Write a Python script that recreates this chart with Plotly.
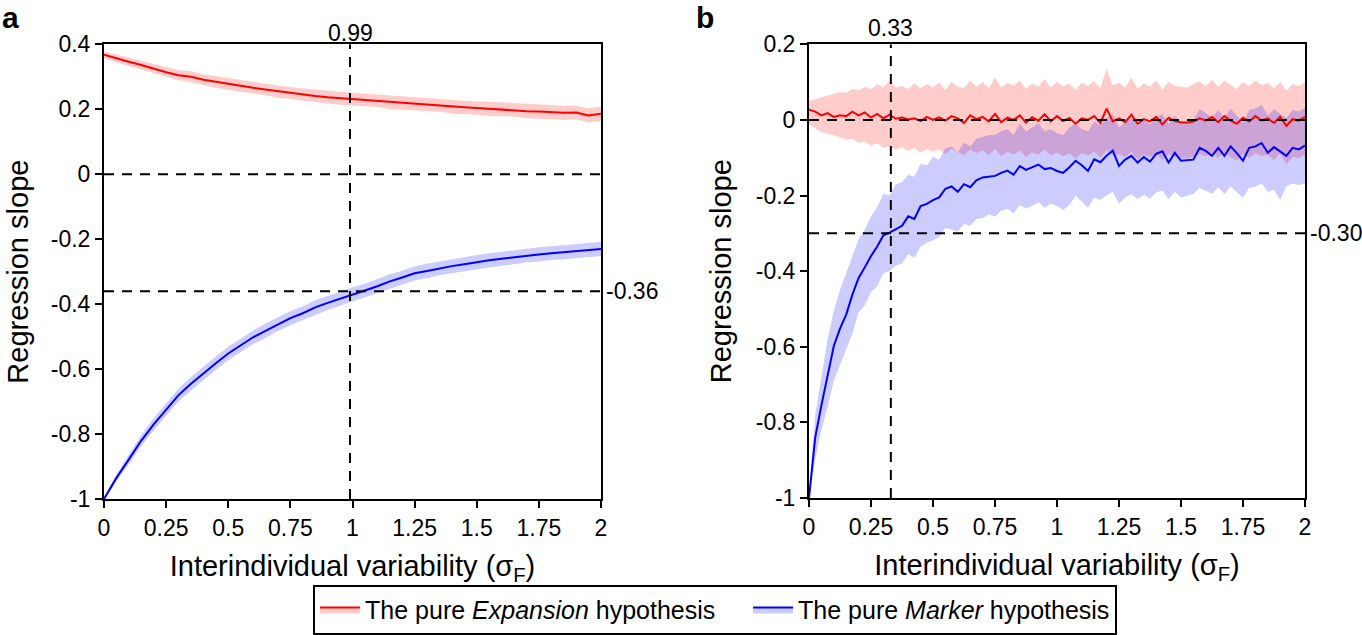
import numpy as np
import plotly.graph_objects as go

# ---------------- data: panel a (x step 0.05) ----------------
xa = np.linspace(0, 2, 41)
red_a = [0.368, 0.356, 0.346, 0.336, 0.324, 0.314, 0.305, 0.300, 0.291, 0.284,
         0.277, 0.272, 0.266, 0.261, 0.254, 0.250, 0.245, 0.241, 0.237, 0.234,
         0.231, 0.229, 0.227, 0.222, 0.219, 0.217, 0.214, 0.212, 0.208, 0.206,
         0.204, 0.201, 0.199, 0.197, 0.194, 0.193, 0.191, 0.189, 0.190, 0.181,
         0.186]
red_a_hw = [0.010, 0.012, 0.013, 0.014, 0.015, 0.016, 0.016, 0.017, 0.017, 0.018,
            0.018, 0.018, 0.019, 0.018, 0.019, 0.018, 0.019, 0.020, 0.019, 0.020,
            0.020, 0.019, 0.020, 0.021, 0.020, 0.020, 0.021, 0.020, 0.021, 0.020,
            0.021, 0.022, 0.021, 0.020, 0.021, 0.022, 0.021, 0.022, 0.021, 0.022,
            0.022]
blue_a = [-1.000, -0.935, -0.878, -0.820, -0.770, -0.725, -0.680, -0.645, -0.612, -0.582,
          -0.552, -0.527, -0.502, -0.482, -0.462, -0.443, -0.428, -0.410, -0.396, -0.384,
          -0.370, -0.358, -0.345, -0.330, -0.318, -0.305, -0.298, -0.290, -0.283, -0.277,
          -0.270, -0.265, -0.260, -0.255, -0.250, -0.247, -0.243, -0.240, -0.236, -0.233,
          -0.230]
blue_a_hw = [0.004, 0.010, 0.014, 0.017, 0.019, 0.020, 0.020, 0.021, 0.021, 0.021,
             0.021, 0.022, 0.021, 0.022, 0.021, 0.022, 0.021, 0.022, 0.022, 0.021,
             0.022, 0.021, 0.022, 0.022, 0.021, 0.022, 0.022, 0.021, 0.022, 0.022,
             0.021, 0.022, 0.022, 0.021, 0.022, 0.022, 0.021, 0.022, 0.022, 0.021,
             0.022]

# ---------------- data: panel b (x step 0.025) ----------------
xb = np.linspace(0, 2, 81)
red_b = [0.027, 0.022, 0.012, 0.018, 0.008, 0.012, 0.010, 0.022, 0.012, 0.020,
         0.006, 0.016, 0.004, 0.014, 0.003, 0.006, 0.001, 0.004, -0.003, 0.008,
         0.000, 0.007, -0.002, 0.010, 0.004, -0.008, 0.012, 0.002, 0.008, -0.004,
         0.016, -0.006, 0.006, 0.000, 0.012, -0.007, 0.007, -0.002, 0.015, -0.004,
         0.010, -0.003, 0.005, -0.010, 0.004, 0.000, 0.010, -0.008, 0.030, -0.004,
         0.004, -0.006, 0.014, -0.010, 0.002, -0.004, 0.008, -0.012, 0.006, -0.003,
         -0.006, -0.007, -0.004, 0.004, -0.002, 0.008, -0.006, 0.010, -0.002, -0.010,
         0.006, -0.004, 0.010, -0.002, 0.004, -0.008, 0.008, -0.016, 0.002, -0.002,
         0.008]
red_b_hi = [0.050, 0.055, 0.060, 0.066, 0.070, 0.074, 0.072, 0.082, 0.078, 0.088,
            0.082, 0.094, 0.086, 0.104, 0.086, 0.090, 0.082, 0.096, 0.084, 0.094,
            0.086, 0.098, 0.080, 0.100, 0.088, 0.085, 0.104, 0.088, 0.100, 0.084,
            0.112, 0.086, 0.098, 0.090, 0.104, 0.082, 0.096, 0.088, 0.108, 0.086,
            0.100, 0.088, 0.096, 0.080, 0.098, 0.090, 0.102, 0.084, 0.135, 0.092,
            0.098, 0.086, 0.112, 0.082, 0.096, 0.088, 0.104, 0.080, 0.100, 0.090,
            0.088, 0.086, 0.094, 0.102, 0.090, 0.106, 0.088, 0.104, 0.092, 0.082,
            0.100, 0.090, 0.104, 0.092, 0.098, 0.084, 0.100, 0.078, 0.094, 0.090,
            0.100]
red_b_lo = [-0.012, -0.022, -0.032, -0.036, -0.042, -0.048, -0.052, -0.050, -0.060, -0.058,
            -0.068, -0.062, -0.074, -0.070, -0.078, -0.072, -0.082, -0.074, -0.086, -0.076,
            -0.084, -0.078, -0.090, -0.076, -0.084, -0.094, -0.078, -0.088, -0.080, -0.094,
            -0.076, -0.096, -0.084, -0.092, -0.080, -0.098, -0.086, -0.092, -0.078, -0.094,
            -0.086, -0.096, -0.088, -0.102, -0.088, -0.094, -0.084, -0.100, -0.080, -0.094,
            -0.090, -0.098, -0.084, -0.104, -0.092, -0.098, -0.088, -0.106, -0.090, -0.098,
            -0.100, -0.102, -0.098, -0.090, -0.096, -0.086, -0.100, -0.086, -0.098, -0.108,
            -0.090, -0.100, -0.088, -0.096, -0.092, -0.106, -0.088, -0.118, -0.098, -0.100,
            -0.092]
blue_b = [-1.000, -0.840, -0.755, -0.672, -0.598, -0.552, -0.515, -0.462, -0.418, -0.390,
          -0.360, -0.335, -0.305, -0.298, -0.288, -0.280, -0.255, -0.262, -0.228, -0.222,
          -0.212, -0.205, -0.182, -0.176, -0.190, -0.170, -0.178, -0.160, -0.152, -0.150,
          -0.148, -0.140, -0.134, -0.145, -0.122, -0.132, -0.126, -0.118, -0.130, -0.127,
          -0.135, -0.140, -0.125, -0.108, -0.120, -0.135, -0.104, -0.112, -0.095, -0.081,
          -0.122, -0.105, -0.095, -0.113, -0.098, -0.110, -0.090, -0.083, -0.113, -0.087,
          -0.108, -0.106, -0.105, -0.074, -0.082, -0.095, -0.074, -0.095, -0.070, -0.088,
          -0.108, -0.074, -0.070, -0.061, -0.087, -0.072, -0.084, -0.095, -0.074, -0.078,
          -0.068]
blue_b_hi = [-0.985, -0.780, -0.680, -0.580, -0.505, -0.450, -0.405, -0.360, -0.315, -0.290,
             -0.255, -0.230, -0.195, -0.200, -0.170, -0.165, -0.145, -0.150, -0.115, -0.120,
             -0.098, -0.105, -0.075, -0.070, -0.085, -0.060, -0.070, -0.050, -0.045, -0.040,
             -0.040, -0.030, -0.025, -0.040, -0.010, -0.030, -0.020, -0.008, -0.030, -0.025,
             -0.035, -0.040, -0.020, -0.010, -0.025, -0.030, -0.005, -0.015, 0.005, 0.015,
             -0.020, -0.005, 0.005, -0.010, 0.000, -0.012, 0.008, 0.015, -0.010, 0.012,
             -0.008, -0.004, 0.000, 0.028, 0.018, 0.005, 0.026, 0.005, 0.030, 0.012,
             -0.008, 0.026, 0.030, 0.040, 0.012, 0.028, 0.016, 0.005, 0.026, 0.022,
             0.032]
blue_b_lo = [-1.000, -0.900, -0.820, -0.760, -0.690, -0.650, -0.610, -0.565, -0.510, -0.490,
             -0.455, -0.440, -0.405, -0.400, -0.385, -0.380, -0.355, -0.365, -0.335, -0.325,
             -0.318, -0.310, -0.285, -0.290, -0.295, -0.275, -0.280, -0.262, -0.260, -0.250,
             -0.256, -0.240, -0.235, -0.248, -0.225, -0.235, -0.228, -0.218, -0.232, -0.222,
             -0.228, -0.238, -0.225, -0.200, -0.215, -0.232, -0.205, -0.212, -0.200, -0.190,
             -0.222, -0.205, -0.196, -0.210, -0.198, -0.208, -0.192, -0.186, -0.210, -0.190,
             -0.205, -0.200, -0.196, -0.180, -0.187, -0.195, -0.178, -0.196, -0.176, -0.190,
             -0.206, -0.180, -0.176, -0.168, -0.190, -0.185, -0.212, -0.175, -0.168, -0.172,
             -0.168]

# reference lines
a_vline, a_hline = 0.99, -0.36
b_vline, b_hline = 0.33, -0.30

x_tickvals = [0, 0.25, 0.5, 0.75, 1, 1.25, 1.5, 1.75, 2]
x_ticktext = ["0", "0.25", "0.5", "0.75", "1", "1.25", "1.5", "1.75", "2"]
ya_tickvals = [0.4, 0.2, 0, -0.2, -0.4, -0.6, -0.8, -1]
ya_ticktext = ["0.4", "0.2", "0", "-0.2", "-0.4", "-0.6", "-0.8", "-1"]
yb_tickvals = [0.2, 0, -0.2, -0.4, -0.6, -0.8, -1]
yb_ticktext = ["0.2", "0", "-0.2", "-0.4", "-0.6", "-0.8", "-1"]

legend_names = ["The pure <i>Expansion</i> hypothesis&nbsp;&nbsp;&nbsp;&nbsp;",
                "The pure <i>Marker</i> hypothesis"]

RED, BLUE = "#ff0000", "#0000ff"
RED_F, BLUE_F = "rgba(255,0,0,0.2)", "rgba(0,0,255,0.2)"
FONT = "Liberation Sans, Arial, sans-serif"

W, H = 1362, 635
fig = go.Figure()


def band(x, lo, hi, color, xa_, ya_):
    fig.add_trace(go.Scatter(x=x, y=lo, mode="lines", line=dict(width=0),
                             showlegend=False, hoverinfo="skip", xaxis=xa_, yaxis=ya_))
    fig.add_trace(go.Scatter(x=x, y=hi, mode="lines", line=dict(width=0), fill="tonexty",
                             fillcolor=color, showlegend=False, hoverinfo="skip",
                             xaxis=xa_, yaxis=ya_))


# panel a
band(xa, [m - h for m, h in zip(red_a, red_a_hw)], [m + h for m, h in zip(red_a, red_a_hw)], RED_F, "x", "y")
band(xa, [m - h for m, h in zip(blue_a, blue_a_hw)], [m + h for m, h in zip(blue_a, blue_a_hw)], BLUE_F, "x", "y")
fig.add_trace(go.Scatter(x=xa, y=red_a, mode="lines", line=dict(color=RED, width=2),
                         showlegend=False, xaxis="x", yaxis="y"))
fig.add_trace(go.Scatter(x=xa, y=blue_a, mode="lines", line=dict(color=BLUE, width=2),
                         showlegend=False, xaxis="x", yaxis="y"))

# panel b
band(xb, red_b_lo, red_b_hi, RED_F, "x2", "y2")
band(xb, blue_b_lo, blue_b_hi, BLUE_F, "x2", "y2")
fig.add_trace(go.Scatter(x=xb, y=red_b, mode="lines", line=dict(color=RED, width=2),
                         showlegend=False, xaxis="x2", yaxis="y2"))
fig.add_trace(go.Scatter(x=xb, y=blue_b, mode="lines", line=dict(color=BLUE, width=2),
                         showlegend=False, xaxis="x2", yaxis="y2"))

# legend entries
fig.add_trace(go.Scatter(x=[None], y=[None], mode="lines", fill="toself", fillcolor=RED_F,
                         line=dict(color=RED, width=2),
                         name=legend_names[0], xaxis="x", yaxis="y"))
fig.add_trace(go.Scatter(x=[None], y=[None], mode="lines", fill="toself", fillcolor=BLUE_F,
                         line=dict(color=BLUE, width=2),
                         name=legend_names[1], xaxis="x", yaxis="y"))


def px_x(p):
    return p / W


def px_y(p):
    return 1 - p / H


axis_common = dict(showline=True, linecolor="black", linewidth=2, mirror=True,
                   ticks="outside", ticklen=7, tickwidth=2, tickcolor="black",
                   showgrid=False, zeroline=False, automargin=False,
                   tickfont=dict(family=FONT, size=23, color="black"))

xtitle = "Interindividual variability (σ<sub>F</sub>)"
fig.update_layout(
    template="none",
    width=W, height=H, margin=dict(l=0, r=0, t=0, b=0, pad=0),
    paper_bgcolor="white", plot_bgcolor="white",
    font=dict(family=FONT, color="black"),
    xaxis=dict(domain=[px_x(104), px_x(601)], range=[0, 2], anchor="y",
               tickvals=x_tickvals, ticktext=x_ticktext,
               title=dict(text=xtitle, font=dict(size=29), standoff=16), **axis_common),
    yaxis=dict(domain=[px_y(507), px_y(45)], range=[-1, 0.4], anchor="x",
               tickvals=ya_tickvals, ticktext=ya_ticktext,
               title=dict(text="Regression slope", font=dict(size=29), standoff=14), **axis_common),
    xaxis2=dict(domain=[px_x(809), px_x(1305)], range=[0, 2], anchor="y2",
                tickvals=x_tickvals, ticktext=x_ticktext,
                title=dict(text=xtitle, font=dict(size=29), standoff=16), **axis_common),
    yaxis2=dict(domain=[px_y(506), px_y(45)], range=[-1, 0.2], anchor="x2",
                tickvals=yb_tickvals, ticktext=yb_ticktext,
                title=dict(text="Regression slope", font=dict(size=29), standoff=16), **axis_common),
    legend=dict(orientation="h", x=0.525, xanchor="center", y=px_y(594), yanchor="top",
                traceorder="normal",
                bordercolor="black", borderwidth=2, bgcolor="white",
                font=dict(family=FONT, size=25, color="black"),
                itemwidth=40, tracegroupgap=0),
)

dash = dict(color="black", width=2, dash="10px,8px")
shapes = [
    dict(type="line", xref="x", yref="y", x0=0, x1=2, y0=0, y1=0, line=dash),
    dict(type="line", xref="x", yref="y", x0=0, x1=2, y0=a_hline, y1=a_hline, line=dash),
    dict(type="line", xref="x", yref="y", x0=a_vline, x1=a_vline, y0=-1, y1=0.4, line=dash),
    dict(type="line", xref="x2", yref="y2", x0=0, x1=2, y0=0, y1=0, line=dash),
    dict(type="line", xref="x2", yref="y2", x0=0, x1=2, y0=b_hline, y1=b_hline, line=dash),
    dict(type="line", xref="x2", yref="y2", x0=b_vline, x1=b_vline, y0=-1, y1=0.2, line=dash),
]
fig.update_layout(shapes=shapes)

ann_font = dict(family=FONT, size=23, color="black")
annotations = [
    dict(text="<b>a</b>", xref="paper", yref="paper", x=px_x(0), y=px_y(18),
         xanchor="left", yanchor="middle", showarrow=False,
         font=dict(family=FONT, size=30, color="black")),
    dict(text="<b>b</b>", xref="paper", yref="paper", x=px_x(694), y=px_y(18),
         xanchor="left", yanchor="middle", showarrow=False,
         font=dict(family=FONT, size=30, color="black")),
    dict(text=f"{a_vline:.2f}", xref="x", yref="paper", x=a_vline, y=px_y(49),
         xanchor="center", yanchor="bottom", showarrow=False, font=ann_font),
    dict(text=f"{a_hline:.2f}", xref="x", yref="y", x=2, y=a_hline,
         xanchor="left", yanchor="middle", xshift=3, showarrow=False, font=ann_font),
    dict(text=f"{b_vline:.2f}", xref="x2", yref="paper", x=b_vline, y=px_y(44),
         xanchor="center", yanchor="bottom", showarrow=False, font=ann_font),
    dict(text=f"{b_hline:.2f}", xref="x2", yref="y2", x=2, y=b_hline,
         xanchor="left", yanchor="middle", xshift=3, showarrow=False, font=ann_font),
]
fig.update_layout(annotations=annotations)

fig.write_html("out.html", config={"displayModeBar": False},
               post_script="document.body.style.margin='0px';")
